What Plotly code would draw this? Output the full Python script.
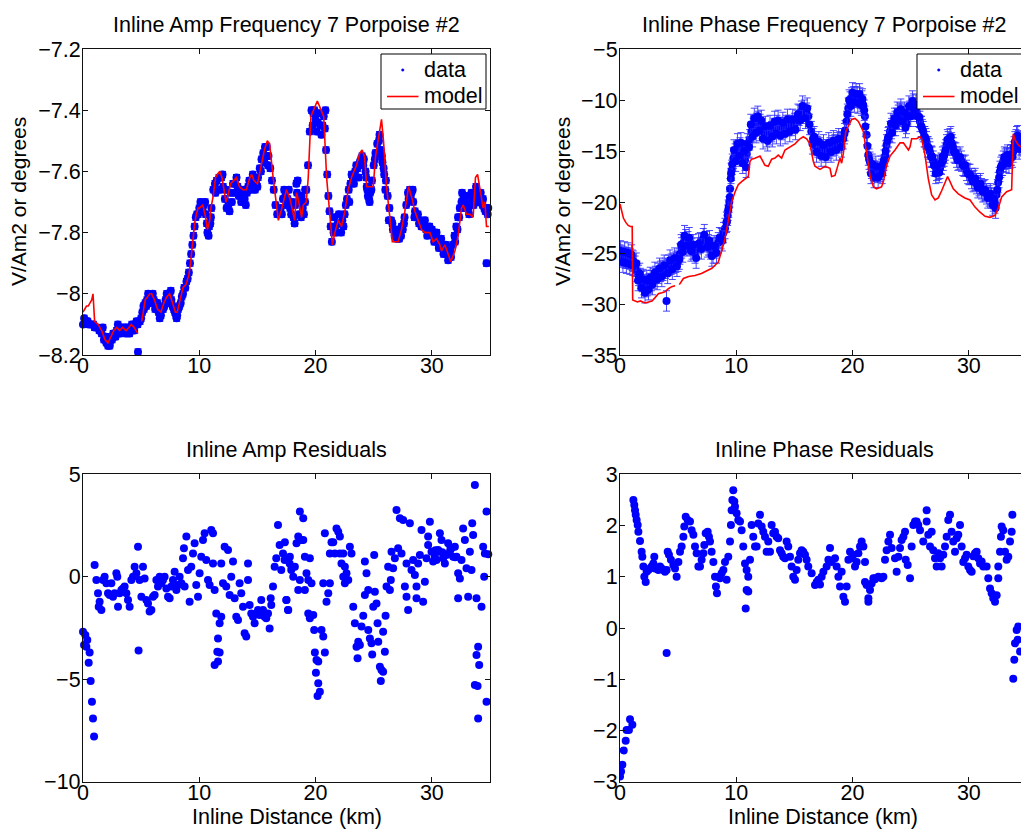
import plotly.graph_objects as go

W, H = 1021, 829
FONT = "Liberation Sans"
FS = 21.5
BLUE = "#0000ff"
RED = "#ff0000"

# ---------------- data: inline amplitude (log10 V/Am2) ----------------
amp_x = [0.0, 0.1, 0.2, 0.3, 0.4, 0.5, 0.7, 0.9, 1.0, 1.2, 1.4, 1.6, 1.8, 2.0, 2.15, 2.3, 2.5, 2.7, 2.9, 3.1,
         3.3, 3.5, 3.7, 3.9, 4.1, 4.3, 4.5, 4.7, 4.73, 4.9, 5.0, 5.1, 5.2, 5.35, 5.5, 5.7, 5.9, 6.1, 6.3, 6.5,
         6.7, 6.9, 7.1, 7.3, 7.45, 7.6, 7.8, 8.0, 8.1, 8.3, 8.5, 8.7, 8.9, 9.0, 9.1, 9.2, 9.3, 9.4, 9.5, 9.6,
         9.7, 9.8, 10.0, 10.2, 10.4, 10.55, 10.7, 10.8, 10.95, 11.05, 11.2, 11.35, 11.5, 11.7, 11.9, 12.05, 12.2, 12.35, 12.5, 12.7,
         12.9, 13.1, 13.3, 13.5, 13.7, 13.9, 14.1, 14.3, 14.5, 14.7, 14.9, 15.05, 15.2, 15.35, 15.5, 15.65, 15.8, 15.95, 16.1, 16.25,
         16.4, 16.55, 16.7, 16.85, 17.0, 17.2, 17.4, 17.6, 17.8, 17.9, 18.1, 18.25, 18.4, 18.46, 18.55, 18.75, 18.9, 19.1, 19.2, 19.35,
         19.5, 19.65, 19.8, 20.0, 20.2, 20.4, 20.6, 20.8, 20.9, 21.0, 21.1, 21.2, 21.3, 21.4, 21.55, 21.7, 21.9, 22.1, 22.3, 22.5,
         22.7, 22.85, 23.0, 23.2, 23.4, 23.6, 23.8, 24.0, 24.15, 24.3, 24.4, 24.5, 24.6, 24.7, 24.85, 25.0, 25.15, 25.3, 25.45, 25.6,
         25.75, 25.9, 26.05, 26.2, 26.35, 26.5, 26.65, 26.8, 27.0, 27.2, 27.35, 27.5, 27.65, 27.8, 27.95, 28.1, 28.25, 28.4, 28.55, 28.7,
         28.9, 29.1, 29.3, 29.5, 29.7, 29.9, 30.1, 30.3, 30.5, 30.7, 30.9, 31.1, 31.3, 31.5, 31.65, 31.8, 31.95, 32.1, 32.25, 32.4,
         32.55, 32.7, 32.85, 33.0, 33.15, 33.3, 33.45, 33.6, 33.75, 33.9, 34.05, 34.2, 34.35, 34.5, 34.65, 34.7, 34.85]
amp_y = [-8.10, -8.08, -8.09, -8.09, -8.09, -8.10, -8.10, -8.10, -8.11, -8.11, -8.12, -8.13, -8.15, -8.16, -8.17, -8.16, -8.15, -8.13, -8.12, -8.12,
         -8.12, -8.12, -8.13, -8.12, -8.11, -8.11, -8.10, -8.10, -8.19, -8.09, -8.08, -8.06, -8.04, -8.03, -8.02, -8.01, -8.01, -8.02, -8.04, -8.06,
         -8.07, -8.05, -8.02, -8.01, -8.00, -8.02, -8.05, -8.07, -8.07, -8.04, -8.01, -7.98, -7.96, -7.95, -7.93, -7.90, -7.87, -7.84, -7.81, -7.78,
         -7.75, -7.74, -7.72, -7.71, -7.71, -7.74, -7.80, -7.81, -7.77, -7.72, -7.66, -7.64, -7.63, -7.62, -7.62, -7.65, -7.69, -7.72, -7.71, -7.67,
         -7.64, -7.64, -7.65, -7.66, -7.68, -7.69, -7.67, -7.63, -7.63, -7.64, -7.64, -7.62, -7.59, -7.56, -7.54, -7.52, -7.52, -7.55, -7.59, -7.63,
         -7.66, -7.71, -7.74, -7.74, -7.72, -7.69, -7.68, -7.69, -7.72, -7.74, -7.75, -7.71, -7.67, -7.63, -7.70, -7.75, -7.72, -7.70, -7.66, -7.58,
         -7.47, -7.40, -7.41, -7.43, -7.44, -7.45, -7.45, -7.46, -7.53, -7.61, -7.68, -7.73, -7.78, -7.83, -7.80, -7.78, -7.77, -7.77, -7.76, -7.74,
         -7.69, -7.66, -7.64, -7.62, -7.60, -7.59, -7.57, -7.55, -7.56, -7.60, -7.65, -7.68, -7.69, -7.67, -7.63, -7.58, -7.54, -7.51, -7.50, -7.53,
         -7.57, -7.61, -7.63, -7.68, -7.72, -7.76, -7.79, -7.81, -7.82, -7.82, -7.81, -7.79, -7.75, -7.71, -7.67, -7.66, -7.67, -7.70, -7.73, -7.75,
         -7.77, -7.78, -7.78, -7.79, -7.80, -7.80, -7.81, -7.82, -7.83, -7.84, -7.85, -7.86, -7.87, -7.88, -7.88, -7.84, -7.81, -7.78, -7.75, -7.72,
         -7.70, -7.69, -7.70, -7.71, -7.72, -7.71, -7.70, -7.69, -7.68, -7.67, -7.68, -7.70, -7.71, -7.72, -7.72, -7.90, -7.72]
# scatter of the amplitude points around the main band
amp_x2 = [1.7, 2.0, 2.3, 2.6, 2.8, 3.0, 3.2, 3.4, 3.6, 3.8, 4.0, 4.2, 4.4, 4.6,
          5.25, 5.45, 5.6, 5.8, 6.0, 6.2, 6.4, 6.6, 6.8, 7.0, 7.2, 7.4, 7.55, 7.7, 7.9, 8.05, 8.2, 8.4, 8.6, 8.8,
          9.9, 10.1, 10.3, 10.5, 10.65, 10.85, 11.0,
          11.4, 11.8, 12.0, 12.3, 12.6, 12.8, 13.0, 13.2, 13.4, 13.6, 13.8, 14.0, 14.2, 14.4, 14.6, 14.8, 15.0, 15.3, 15.6, 15.7, 15.9,
          17.1, 17.3, 17.5, 17.7, 18.0, 18.2, 18.35, 18.6, 18.8, 19.0, 19.1,
          19.75, 19.9, 20.1, 20.3, 20.5, 20.7, 20.85,
          21.6, 21.8, 22.0, 22.2, 22.4, 22.6, 22.9, 23.1, 23.3, 23.5, 23.7, 23.9, 24.1,
          24.35, 24.45, 24.55, 24.65, 24.8, 25.1, 25.35, 25.5, 25.7, 25.85, 26.0,
          26.3, 26.6, 26.9, 27.1, 27.4, 27.6, 28.0, 28.2, 28.35, 28.5, 28.8, 29.0,
          29.4, 29.6, 29.8, 30.0, 30.2, 30.4, 30.6, 30.8, 31.0, 31.2, 31.4, 31.6,
          32.0, 32.2, 32.35, 32.6, 32.8, 33.0, 33.2, 33.4, 33.6, 33.8, 34.0, 34.2, 34.4, 34.6, 34.8]
amp_y2 = [-8.11, -8.14, -8.17, -8.13, -8.14, -8.10, -8.13, -8.11, -8.11, -8.11, -8.13, -8.10, -8.12, -8.09,
          -8.05, -8.04, -8.00, -8.03, -8.00, -8.05, -8.03, -8.08, -8.05, -8.04, -8.00, -8.03, -7.99, -8.04, -8.06, -8.08, -8.05, -8.03, -8.00, -7.98,
          -7.74, -7.70, -7.73, -7.70, -7.77, -7.78, -7.75,
          -7.67, -7.66, -7.61, -7.66, -7.73, -7.70, -7.67, -7.62, -7.68, -7.70, -7.66, -7.71, -7.65, -7.66, -7.61, -7.66, -7.65, -7.60, -7.57, -7.55, -7.58,
          -7.74, -7.66, -7.71, -7.66, -7.70, -7.77, -7.64, -7.74, -7.68, -7.74, -7.66,
          -7.45, -7.40, -7.47, -7.41, -7.48, -7.42, -7.40,
          -7.75, -7.80, -7.74, -7.80, -7.78, -7.71, -7.70, -7.61, -7.64, -7.58, -7.62, -7.56, -7.58,
          -7.62, -7.66, -7.65, -7.70, -7.66, -7.56, -7.54, -7.48, -7.55, -7.59, -7.66,
          -7.76, -7.77, -7.79, -7.80, -7.78, -7.77, -7.69, -7.69, -7.66, -7.75, -7.74, -7.76,
          -7.76, -7.81, -7.78, -7.79, -7.83, -7.80, -7.85, -7.82, -7.87, -7.84, -7.89, -7.86,
          -7.83, -7.79, -7.75, -7.67, -7.72, -7.68, -7.74, -7.67, -7.71, -7.65, -7.70, -7.67, -7.69, -7.73, -7.74]
amp_err = 0.01

amp_model_x = [0.0, 0.15, 0.3, 0.45, 0.6, 0.75, 0.86, 0.95, 1.0, 1.3, 1.6, 1.9, 2.15, 2.4, 2.65, 2.9, 3.15, 3.4, 3.7, 3.95,
               4.15, 4.4, 4.6, 4.73, None, 5.05, 5.2, 5.35, 5.55, 5.75, 5.9, 6.15, 6.4, 6.7, 6.95, 7.2, 7.45, 7.7, 7.95, 8.1,
               8.4, 8.6, 8.85, 9.1, 9.25, 9.35, 9.45, 9.6, 9.75, 9.9, 10.0, 10.3, 10.55, 10.7, 10.9, 11.0, 11.2, 11.4, 11.55, 11.75,
               11.95, 12.15, 12.3, 12.45, 12.7, 12.95, 13.2, 13.45, 13.75, 14.05, 14.35, 14.5, 14.7, 15.0, 15.3, 15.6, 15.85, 16.05, 16.35, 16.6,
               16.8, 17.1, 17.5, 17.8, 18.05, 18.2, 18.36, 18.5, 18.8, 18.94, 19.2, 19.37, 19.6, 19.9, 20.15, 20.37, 20.7, 20.95, 21.23, 21.45,
               21.66, 21.95, 22.23, 22.52, 22.81, 23.09, 23.52, 23.81, 24.0, 24.2, 24.4, 24.67, 24.96, 25.16, 25.39, 25.67, 25.84, 26.1, 26.39, 26.6,
               27.1, 27.39, 27.68, 28.0, 28.3, 28.54, 28.82, 29.11, 29.4, 29.83, 30.11, 30.4, 30.69, 30.83, 31.12, 31.4, 31.63, 31.98, 32.26, 32.55,
               32.69, 32.98, 33.27, 33.55, 33.75, 33.93, 34.13, 34.41, 34.56, 34.7, 34.9]
amp_model_y = [-8.06, -8.05, -8.04, -8.04, -8.03, -8.02, -8.00, -8.06, -8.09, -8.10, -8.12, -8.15, -8.16, -8.14, -8.12, -8.11, -8.12, -8.11, -8.12, -8.11,
               -8.10, -8.11, -8.12, -8.13, None, -8.09, -8.05, -8.02, -8.01, -8.00, -8.00, -8.02, -8.05, -8.06, -8.03, -8.01, -8.00, -8.03, -8.06, -8.06,
               -8.01, -7.98, -7.97, -7.94, -7.90, -7.86, -7.82, -7.77, -7.74, -7.72, -7.72, -7.71, -7.75, -7.79, -7.76, -7.72, -7.68, -7.62, -7.61, -7.60,
               -7.62, -7.67, -7.70, -7.68, -7.64, -7.63, -7.62, -7.65, -7.66, -7.66, -7.62, -7.61, -7.63, -7.64, -7.58, -7.53, -7.50, -7.51, -7.62, -7.70,
               -7.76, -7.72, -7.66, -7.69, -7.73, -7.76, -7.67, -7.69, -7.75, -7.71, -7.70, -7.62, -7.42, -7.39, -7.37, -7.39, -7.42, -7.62, -7.75, -7.84,
               -7.80, -7.76, -7.78, -7.73, -7.66, -7.62, -7.58, -7.54, -7.53, -7.55, -7.65, -7.65, -7.65, -7.55, -7.49, -7.43, -7.50, -7.65, -7.75, -7.83,
               -7.83, -7.79, -7.73, -7.65, -7.69, -7.73, -7.76, -7.79, -7.80, -7.80, -7.83, -7.82, -7.84, -7.86, -7.84, -7.87, -7.895, -7.86, -7.81, -7.72,
               -7.71, -7.74, -7.74, -7.75, -7.62, -7.61, -7.66, -7.72, -7.70, -7.78, -7.78]

# ---------------- data: inline phase (degrees) ----------------
phase_x = [0.0, 0.15, 0.3, 0.45, 0.6, 0.75, 0.9, 1.05, 1.15, 1.3, 1.45, 1.6, 1.75, 1.9, 2.05, 2.2, 2.35, 2.5, 2.7, 2.87,
           3.05, 3.3, 3.5, 3.7, 3.9, 4.0, 4.16, 4.4, 4.6, 4.8, 5.0, 5.15, 5.3, 5.45, 5.65, 5.85, 6.0, 6.2, 6.45, 6.65,
           6.9, 7.16, 7.4, 7.6, 7.8, 8.0, 8.2, 8.45, 8.7, 8.9, 9.03, 9.15, 9.26, 9.35, 9.4, 9.46, 9.53, 9.6, 9.75, 9.9,
           10.0, 10.2, 10.32, 10.45, 10.6, 10.75, 10.9, 11.03, 11.15, 11.3, 11.45, 11.6, 11.75, 11.9, 12.05, 12.2, 12.4, 12.6, 12.8, 13.04,
           13.25, 13.5, 13.7, 13.9, 14.1, 14.3, 14.5, 14.76, 15.0, 15.2, 15.4, 15.6, 15.85, 16.05, 16.2, 16.45, 16.6, 16.77, 17.0, 17.19,
           17.4, 17.62, 17.85, 18.05, 18.25, 18.48, 18.7, 18.91, 19.2, 19.35, 19.48, 19.63, 19.78, 19.91, 20.05, 20.2, 20.4, 20.63, 20.8, 20.92,
           21.06, 21.2, 21.35, 21.5, 21.63, 21.78, 21.92, 22.15, 22.35, 22.5, 22.64, 22.8, 22.92, 23.05, 23.21, 23.35, 23.5, 23.65, 23.78, 23.92,
           24.07, 24.2, 24.36, 24.5, 24.64, 24.78, 24.93, 25.08, 25.22, 25.36, 25.5, 25.65, 25.79, 25.93, 26.08, 26.22, 26.36, 26.5, 26.65, 26.8,
           26.94, 27.08, 27.22, 27.36, 27.51, 27.65, 27.8, 27.94, 28.08, 28.22, 28.37, 28.52, 28.66, 28.8, 28.94, 29.15, 29.37, 29.58, 29.8, 30.0,
           30.23, 30.45, 30.66, 30.88, 31.09, 31.3, 31.52, 31.74, 31.95, 32.1, 32.24, 32.38, 32.52, 32.67, 32.82, 32.96, 33.1, 33.24, 33.38, 33.53,
           33.67, 33.81, 33.96, 34.1, 34.25, 34.39, 34.55, 34.7]
phase_y = [-25.2, -25.3, -25.4, -25.5, -25.5, -25.5, -25.6, -25.7, -25.8, -26.3, -26.8, -27.2, -27.5, -27.8, -28.1, -28.3, -28.2, -28.0, -27.7, -27.5,
           -27.3, -27.0, -26.8, -26.7, -26.5, -29.7, -26.2, -26.1, -26.0, -25.9, -25.8, -25.1, -24.5, -24.0, -23.7, -23.9, -24.2, -24.6, -25.0, -24.5,
           -24.0, -23.6, -23.9, -24.2, -24.6, -25.0, -24.5, -24.0, -23.6, -23.0, -22.6, -22.0, -21.3, -20.5, -20.0, -18.7, -17.7, -16.9, -15.7, -15.3,
           -15.1, -14.9, -14.7, -15.0, -15.4, -15.9, -15.3, -14.7, -13.9, -13.1, -12.8, -12.6, -12.3, -12.1, -12.4, -12.8, -13.2, -13.6, -13.4, -13.1,
           -12.8, -12.5, -12.7, -12.9, -12.7, -12.5, -12.5, -12.5, -12.3, -12.0, -11.5, -11.1, -11.0, -11.3, -11.6, -13.1, -13.8, -14.4, -14.6, -14.7,
           -14.9, -15.1, -14.9, -14.7, -14.5, -14.4, -14.2, -14.1, -13.8, -13.0, -12.1, -10.8, -10.2, -9.8, -9.7, -9.7, -9.7, -9.8, -10.1, -10.5,
           -11.6, -13.4, -15.4, -16.1, -16.7, -16.9, -17.0, -17.1, -17.0, -16.8, -16.4, -15.5, -14.4, -13.7, -13.1, -12.8, -12.5, -12.1, -11.8, -11.5,
           -11.3, -11.4, -11.6, -12.0, -12.3, -11.6, -11.1, -10.8, -10.4, -10.8, -11.1, -11.6, -12.1, -12.6, -13.1, -13.6, -14.1, -14.6, -15.1, -15.5,
           -16.0, -16.5, -16.9, -16.8, -16.7, -16.3, -15.9, -15.2, -14.4, -14.1, -13.8, -14.2, -14.7, -15.2, -15.6, -15.8, -16.0, -16.5, -16.9, -17.3,
           -17.7, -17.9, -18.2, -18.4, -18.7, -18.9, -19.2, -19.4, -19.6, -19.9, -20.1, -19.3, -18.1, -17.0, -16.4, -16.0, -15.8, -15.7, -15.7, -15.7,
           -15.4, -15.1, -14.1, -13.6, -14.0, -14.4, -14.3, -14.5]
# scatter of the phase points around the main band
phase_x2 = [0.05, 0.25, 0.4, 0.55, 0.7, 0.85, 1.0, 1.1, 1.4, 1.55, 1.7, 1.85, 2.0, 2.15, 2.3, 2.45,
            2.6, 2.8, 3.0, 3.2, 3.4, 3.6, 3.8, 4.1, 4.3, 4.5, 4.7, 4.9,
            5.1, 5.25, 5.4, 5.55, 5.75, 5.95, 6.1, 6.3, 6.55, 6.75, 7.0, 7.25, 7.5, 7.7, 7.9, 8.1, 8.3, 8.55, 8.8,
            9.2, 9.3, 9.45, 9.55, 9.65, 9.8, 9.95, 10.1, 10.25, 10.4, 10.55, 10.7, 10.85, 10.95,
            11.1, 11.25, 11.4, 11.55, 11.7, 11.85, 12.0, 12.15, 12.3, 12.5, 12.7, 12.9, 13.1, 13.3, 13.45, 13.6, 13.8, 14.0,
            14.2, 14.4, 14.6, 14.85, 15.1, 15.3, 15.5, 15.7, 15.95, 16.1, 16.3, 16.55, 16.7,
            16.9, 17.1, 17.3, 17.5, 17.7, 17.95, 18.15, 18.35, 18.6, 18.8, 19.05, 19.3,
            19.55, 19.7, 19.85, 20.0, 20.15, 20.3, 20.45, 20.6, 20.75, 20.85, 21.0,
            21.1, 21.28, 21.42, 21.58, 21.7, 21.85, 22.0, 22.2, 22.45, 22.55, 22.7, 22.85,
            23.0, 23.1, 23.3, 23.4, 23.6, 23.7, 23.85, 24.0, 24.15, 24.3, 24.45, 24.55, 24.7, 24.85, 25.0, 25.15, 25.3, 25.45, 25.6, 25.75,
            25.9, 26.0, 26.15, 26.3, 26.45, 26.6, 26.75, 26.85, 27.0, 27.15, 27.3, 27.45, 27.6, 27.72, 27.87, 28.0,
            28.15, 28.3, 28.45, 28.58, 28.72, 28.88, 29.05, 29.25, 29.48, 29.7, 29.9, 30.1,
            30.35, 30.55, 30.77, 31.0, 31.2, 31.4, 31.63, 31.85, 32.05, 32.17, 32.3, 32.45, 32.6, 32.75, 32.9, 33.05, 33.2, 33.32,
            33.45, 33.6, 33.75, 33.88, 34.05, 34.2, 34.32, 34.48]
phase_y2 = [-24.8, -25.9, -24.9, -26.0, -25.0, -26.1, -25.2, -26.2, -26.0, -27.7, -27.0, -28.4, -27.6, -28.9, -27.7, -28.6,
            -27.4, -28.1, -26.9, -27.6, -26.5, -27.3, -26.2, -27.0, -25.7, -26.6, -25.5, -26.3,
            -25.6, -24.2, -24.9, -23.3, -24.3, -23.5, -24.8, -24.2, -25.5, -24.1, -24.6, -23.2, -24.4, -23.8, -25.3, -24.3, -25.0, -23.5, -23.8,
            -21.9, -20.8, -19.5, -17.2, -16.3, -14.9, -16.0, -14.3, -15.5, -14.2, -16.2, -15.0, -16.6, -14.3,
            -14.6, -12.4, -13.6, -11.8, -13.2, -11.6, -13.0, -12.0, -13.8, -12.6, -14.0, -12.5, -13.6, -12.1, -13.3, -12.0, -13.5, -12.2,
            -13.3, -11.9, -13.1, -11.9, -12.9, -11.4, -12.0, -10.6, -11.8, -10.8, -12.4, -14.3, -13.6,
            -15.1, -14.1, -15.5, -14.4, -15.6, -14.2, -15.1, -14.0, -14.9, -13.8, -14.6, -13.3,
            -11.4, -10.0, -10.6, -9.3, -10.2, -9.4, -10.3, -9.4, -10.5, -9.9, -11.0,
            -12.6, -14.5, -15.8, -17.2, -16.3, -17.6, -16.5, -17.6, -16.5, -17.2, -15.9, -15.0,
            -14.0, -13.6, -12.3, -13.2, -11.8, -12.5, -11.2, -11.9, -10.9, -12.1, -11.2, -12.7, -11.6, -10.6, -11.6, -10.1, -10.9, -10.5, -11.6, -11.7,
            -12.6, -12.9, -13.6, -13.8, -14.6, -14.8, -15.6, -15.6, -16.4, -17.2, -16.4, -17.1, -16.2, -15.6, -15.5, -14.9,
            -13.9, -14.4, -13.6, -14.4, -15.1, -15.2, -15.9, -15.6, -16.4, -16.4, -17.2, -17.3,
            -18.0, -17.7, -18.6, -18.2, -19.0, -18.8, -19.6, -19.2, -20.3, -19.7, -20.6, -18.8, -17.6, -16.6, -16.4, -15.6, -16.1, -15.4,
            -16.2, -15.4, -15.6, -14.6, -13.9, -13.5, -14.8, -14.1]
phase_err = 1.0

phase_model_x = [0.0, 0.15, 0.3, 0.5, 0.7, 0.9, 1.05, 1.09, 1.3, 1.5, 1.75, 1.95, 2.15, 2.45, 2.75, 3.0, 3.3, 3.6, 3.87, 4.16,
                 4.45, 4.73, None, 5.1, 5.45, 5.9, 6.45, 7.0, 7.6, 7.9, 8.17, 8.45, 8.74, 9.03, 9.3, 9.6, 9.9, 10.17, 10.46, 10.75,
                 11.03, 11.18, 11.32, 11.6, 12.04, 12.47, 12.75, 13.04, 13.33, 13.61, 13.9, 14.19, 14.62, 15.05, 15.48, 15.76, 16.05, 16.34, 16.62, 16.77,
                 17.2, 17.63, 18.06, 18.2, 18.49, 18.72, 18.92, 19.06, 19.21, 19.41, 19.64, 19.92, 20.21, 20.5, 20.93, 21.21, 21.5, 21.79, 22.06, 22.5,
                 22.65, 22.93, 23.22, 23.65, 24.08, 24.37, 24.65, 24.8, 24.94, 25.08, 25.51, 25.8, 25.94, 26.23, 26.51, 26.8, 27.09, 27.37, 27.66, 27.95,
                 28.17, 28.38, 28.66, 29.09, 29.66, 30.1, 30.53, 30.96, 31.39, 31.82, 32.25, 32.53, 32.82, 33.25, 33.68, 33.82, 33.97, 34.25, 34.48, 34.9]
phase_model_y = [-20.2, -21.0, -21.6, -22.0, -22.3, -22.4, -22.4, -29.6, -29.7, -29.8, -29.7, -29.8, -29.9, -29.8, -29.7, -29.4, -29.0, -28.9, -28.8, -28.5,
                 -28.3, -28.2, None, -28.1, -27.5, -27.3, -27.2, -27.0, -26.7, -26.5, -26.2, -25.9, -24.8, -23.6, -21.9, -20.0, -19.0, -18.3, -18.0, -17.7,
                 -17.5, -16.0, -15.8, -15.7, -15.5, -16.4, -16.5, -15.8, -15.7, -15.4, -15.7, -14.9, -14.6, -14.3, -13.8, -13.6, -13.8, -14.3, -16.0, -16.5,
                 -16.8, -16.5, -16.7, -17.5, -17.4, -16.4, -15.7, -16.2, -15.2, -13.1, -12.6, -11.9, -11.8, -12.1, -13.1, -15.4, -17.4, -18.5, -18.7, -18.5,
                 -18.0, -16.4, -15.5, -14.9, -14.2, -14.2, -14.6, -14.9, -14.6, -13.8, -13.8, -13.6, -13.8, -15.4, -17.7, -19.3, -19.8, -19.6, -18.9, -18.0,
                 -17.5, -18.0, -18.7, -19.2, -19.6, -19.8, -20.5, -21.0, -21.4, -21.5, -21.3, -20.6, -19.5, -19.0, -18.8, -13.3, -13.9, -14.4, -14.6, -14.8]

# ---------------- residuals: amplitude ----------------
amp_res_x = [0.00, 0.20, 0.37, 0.09, 0.29, 0.57, 0.49, 0.66, 0.77, 0.86, 0.95, 1.00, 1.15, 1.29, 1.43, 1.58, 1.35, 1.72, 1.86, 2.01,
             2.15, 2.29, 2.44, 2.58, 2.72, 2.87, 2.95, 3.01, 3.15, 3.30, 3.44, 3.58, 3.73, 3.87, 4.01, 4.16, 4.30, 4.44, 4.59, 4.73,
             4.78, 4.87, 5.02, 5.16, 5.30, 5.45, 5.59, 5.73, 5.88, 6.02, 6.16, 6.31, 6.45, 6.59, 6.74, 6.88, 7.02, 7.17, 7.31, 7.45,
             7.60, 7.74, 7.88, 8.03, 8.17, 8.31, 8.46, 8.60, 8.68, 8.74, 8.89, 9.03, 9.17, 9.31, 9.46, 9.60, 9.74, 9.89, 10.03, 10.17,
             10.32, 10.46, 10.60, 10.75, 10.89, 11.03, 11.18, 11.18, 11.32, 11.46, 11.55, 11.61, 11.75, 11.61, 11.32, 11.89, 11.75, 11.89, 12.04, 12.18,
             12.32, 12.47, 12.61, 12.75, 12.90, 13.04, 13.18, 13.33, 13.47, 13.61, 13.76, 13.90, 14.04, 14.19, 14.19, 14.33, 14.47, 14.62, 14.76, 14.90,
             15.05, 15.19, 15.33, 15.48, 15.62, 15.76, 15.91, 16.05, 16.14, 16.19, 16.34, 16.48, 16.62, 16.77, 16.91, 17.05, 17.20, 17.34, 17.48, 17.63,
             17.77, 17.91, 17.36, 17.50, 17.65, 17.79, 17.93, 18.08, 18.22, 18.36, 18.51, 18.65, 18.94, 18.79, 18.94, 18.51, 18.65, 19.08, 19.08, 19.22,
             19.37, 19.51, 19.37, 19.51, 19.65, 19.80, 19.88, 19.94, 20.08, 20.23, 20.03, 20.23, 20.37, 20.17, 20.51, 20.66, 20.80, 20.66, 20.94, 21.09,
             21.23, 20.80, 21.23, 21.37, 21.52, 21.80, 21.95, 22.09, 21.66, 22.09, 22.38, 22.23, 22.52, 22.66, 22.38, 22.52, 22.81, 22.95, 23.09, 23.24,
             23.38, 23.52, 23.67, 23.81, 23.61, 23.95, 24.10, 24.24, 24.38, 24.53, 24.24, 24.53, 24.67, 24.81, 24.87, 25.04, 25.10, 24.96, 25.24, 25.33,
             25.39, 25.53, 25.67, 25.81, 25.61, 25.81, 25.96, 26.02, 26.10, 26.24, 26.39, 26.47, 26.53, 26.67, 26.82, 26.96, 27.10, 27.25, 27.39, 27.53,
             27.68, 27.82, 27.96, 28.11, 27.82, 28.25, 28.39, 28.54, 28.68, 28.68, 28.82, 28.97, 29.11, 29.25, 29.40, 29.54, 29.68, 29.83, 29.68, 29.97,
             30.11, 30.26, 30.40, 30.54, 30.69, 30.83, 30.97, 31.12, 31.26, 31.40, 31.55, 31.69, 31.83, 31.98, 32.12, 32.26, 32.41, 32.26, 32.55, 32.69,
             32.84, 32.98, 33.12, 33.27, 33.41, 33.47, 33.55, 33.70, 33.84, 33.98, 33.84, 34.07, 34.27, 34.41, 34.50, 34.56, 34.70, 33.70, 33.93, 33.98,
             34.70, 34.85, 30.3, 30.9, 31.6, 32.0, 31.0, 30.6]
amp_res_y = [-2.68, -2.84, -3.09, -3.33, -3.41, -3.70, -4.19, -5.09, -6.10, -6.91, -7.80, 0.57, -0.16, -0.81, -1.22, -1.62, -1.46, -0.16, 0.00, -0.32,
             -0.81, -0.89, -0.32, -0.97, -0.81, 0.17, 0.00, -1.46, -0.81, -0.65, -0.57, -0.48, -0.81, -1.13, -1.46, -0.16, 0.00, 0.49, 0.17, 1.47,
             -3.60, -0.16, -0.97, 0.49, -0.08, -1.13, -1.30, -1.70, -1.62, -0.97, -0.89, -0.16, -0.48, 0.00, -0.32, -0.16, 0.00, -0.57, -0.97, -1.05,
             -0.48, -0.16, 0.25, -0.65, -0.40, 0.00, -0.32, 0.90, 1.39, -0.48, 1.96, 0.33, -1.22, 0.49, 1.14, 1.63, -0.40, -0.97, 0.17, 0.98,
             1.79, 2.12, 0.82, -0.16, -0.40, 2.28, 2.12, 0.65, -0.65, -1.79, -3.66, -3.01, -3.70, -4.14, -4.31, -1.95, -2.27, 0.65, -0.32, 1.47,
             -0.48, 1.31, -0.89, 0.00, 0.74, -1.05, -1.95, -2.11, -0.32, -0.81, -1.46, -2.76, -2.92, 0.65, -0.16, -1.38, -1.79, -1.95, -2.27, -1.79,
             -1.62, -1.87, -1.13, -1.62, -1.95, -2.03, -1.79, -2.52, -1.05, -1.38, -0.48, 0.49, 0.90, 2.53, 1.55, 0.33, 1.14, 0.82, -1.13, -1.62,
             0.65, 0.33, 1.69, -1.13, -1.62, 0.98, 0.49, 0.00, 0.49, 1.63, 1.96, 3.18, 2.85, 1.79, 1.79, -0.65, -0.16, 0.98, -0.65, 0.17,
             -0.16, 0.90, -1.79, -2.03, -0.32, -1.87, -2.60, -3.70, -4.06, -4.14, -4.68, -5.20, -5.61, -5.82, -2.60, -2.92, -3.70, -0.32, -1.22, -0.81,
             -0.32, 2.12, 1.14, 1.69, 1.69, 2.36, 2.20, 1.96, 1.14, 1.14, 1.14, 0.65, 0.49, 0.17, 0.00, -0.32, -0.16, 1.47, 1.14, -1.46,
             -2.27, -3.41, -3.17, -3.33, -3.98, -2.43, -1.90, 0.74, 0.17, -0.65, -0.89, -2.60, -3.01, -3.25, -3.79, 1.06, -0.73, -1.46, -1.30, -2.27,
             -3.17, -4.39, -4.55, -4.63, -5.09, -2.68, -3.66, -1.90, -0.48, 0.49, -0.65, -0.16, 1.22, 0.41, 0.90, 3.26, 1.39, 2.85, 1.14, 2.77,
             -0.48, -0.97, -1.62, 2.61, 0.65, 0.33, 0.82, 0.09, -0.48, -1.05, 0.65, 1.06, 2.28, -1.22, -0.24, 0.90, 1.55, 2.69, 1.96, 1.22,
             0.74, 0.98, 0.82, 1.31, 2.12, 1.79, 0.90, 0.65, 1.06, 1.63, 1.22, 1.39, 0.98, 1.47, 0.98, 0.17, -0.08, -1.05, 0.82, 2.36,
             1.79, 0.41, -0.97, 1.22, 0.33, 2.61, 2.04, 4.48, -1.05, -3.41, -3.82, -4.31, -1.46, 1.47, 0.00, 1.14, 3.18, -5.28, -5.33, -6.91,
             -6.10, 1.10, 1.30, 1.20, 1.40, 0.95, 1.05, 1.25]

# ---------------- residuals: phase ----------------
phase_res_x = [0.00, 0.09, 0.20, 0.32, 0.49, 0.57, 0.77, 0.86, 1.06, 1.15, 1.23, 1.29, 1.35, 1.43, 1.52, 1.58, 1.72, 1.86, 1.92, 2.01,
               2.09, 2.21, 2.29, 2.44, 2.58, 2.72, 2.87, 2.95, 3.01, 3.15, 3.30, 3.44, 3.58, 3.73, 3.87, 4.01, 4.01, 4.10, 4.21, 4.38,
               4.59, 4.73, 4.87, 5.02, 5.16, 5.30, 5.45, 5.53, 5.65, 5.82, 6.02, 6.16, 6.31, 6.45, 6.59, 6.74, 6.88, 7.02, 7.17, 7.25,
               7.37, 7.54, 7.65, 7.74, 7.88, 8.03, 8.17, 8.25, 8.34, 8.46, 8.60, 8.74, 8.89, 9.03, 9.17, 9.31, 9.46, 9.54, 9.60, 9.66,
               9.74, 9.83, 9.89, 10.03, 10.17, 10.32, 10.46, 10.60, 10.75, 10.89, 11.03, 10.89, 10.81, 11.03, 11.18, 11.32, 11.46, 11.61, 11.75, 11.89,
               12.04, 12.18, 12.32, 12.47, 12.61, 12.75, 12.90, 13.04, 13.18, 13.33, 13.47, 13.61, 13.76, 13.90, 14.04, 14.19, 14.33, 14.47, 14.62, 14.76,
               14.90, 15.05, 15.19, 15.33, 15.48, 15.62, 15.76, 15.91, 16.05, 16.19, 16.48, 16.77, 17.06, 17.34, 17.49, 17.77, 17.92, 18.06, 18.20, 18.49,
               18.63, 18.78, 18.92, 19.06, 19.21, 19.35, 19.49, 19.64, 19.78, 19.92, 20.07, 20.21, 20.35, 20.50, 20.64, 20.78, 20.93, 21.07, 21.07, 21.21,
               21.36, 21.36, 21.50, 21.64, 21.79, 21.93, 22.22, 22.50, 22.65, 22.79, 22.93, 23.08, 23.22, 23.36, 23.65, 23.79, 23.94, 24.08, 24.22, 24.37,
               24.51, 24.57, 24.74, 24.94, 25.08, 25.22, 25.37, 25.51, 25.65, 25.80, 26.08, 26.37, 26.37, 26.51, 26.66, 26.80, 26.94, 27.09, 27.23, 27.37,
               27.52, 27.66, 27.80, 27.95, 28.09, 28.23, 28.38, 28.52, 28.66, 28.81, 28.95, 29.09, 29.24, 29.38, 29.52, 29.67, 29.81, 29.95, 30.10, 30.24,
               30.53, 30.67, 30.81, 30.96, 31.24, 31.53, 31.67, 31.82, 31.96, 32.10, 32.25, 32.39, 32.53, 32.53, 32.68, 32.76, 32.82, 32.96, 33.11, 33.25,
               33.39, 33.54, 33.68, 33.74, 34.11, 34.20, 34.25, 33.97, 33.91, 33.82, 34.40, 16.92, 17.20, 21.93, 30.38, 31.10]
phase_res_y = [-2.90, -2.80, -2.67, -2.39, -2.20, -1.99, -1.99, -1.78, -1.89, 2.50, 2.40, 2.30, 2.21, 2.11, 2.01, 1.88, 1.70, 1.49, 1.39, 1.20,
               1.00, 0.90, 1.10, 1.13, 1.16, 1.20, 1.26, 1.39, 1.16, 1.16, 1.13, 1.20, 1.16, 1.13, 1.10, 1.13, -0.49, 1.49, 1.43, 1.33,
               1.23, 1.16, 1.00, 1.29, 1.49, 1.59, 1.78, 1.98, 2.17, 2.11, 2.08, 1.91, 1.82, 1.59, 1.46, 1.20, 1.20, 1.33, 1.46, 1.62,
               1.85, 1.88, 1.78, 1.69, 1.49, 1.29, 1.00, 0.81, 0.68, 1.00, 0.97, 1.07, 1.13, 1.29, 0.94, 1.39, 1.69, 2.01, 2.30, 2.50,
               2.69, 2.47, 2.37, 2.24, 2.11, 2.08, 1.91, 1.59, 1.26, 1.13, 1.00, 0.74, 0.38, 0.71, 1.33, 2.01, 1.78, 1.59, 1.59, 2.04,
               2.21, 1.98, 1.88, 1.78, 1.49, 1.69, 1.49, 2.01, 1.85, 1.88, 1.78, 1.75, 1.52, 1.46, 1.39, 1.36, 1.69, 1.59, 1.39, 1.20,
               1.00, 0.94, 1.13, 1.33, 1.46, 1.52, 1.49, 1.43, 1.33, 1.20, 1.07, 0.84, 0.94, 1.00, 1.10, 1.20, 1.33, 1.56, 1.29, 1.36,
               1.20, 1.00, 0.81, 1.10, 0.61, 0.51, 0.81, 1.33, 1.49, 1.36, 1.43, 1.20, 1.29, 1.46, 1.59, 1.69, 1.59, 1.29, 0.90, 0.84,
               0.58, 0.51, 0.74, 0.87, 0.97, 0.97, 1.00, 0.97, 1.00, 1.33, 1.52, 1.69, 1.82, 1.56, 1.36, 1.10, 1.39, 1.56, 1.72, 1.78,
               1.88, 1.33, 1.23, 0.97, 1.59, 2.01, 2.08, 2.08, 2.01, 1.91, 1.69, 2.30, 2.08, 1.82, 1.59, 1.88, 1.52, 1.36, 1.20, 1.46,
               1.36, 1.20, 1.43, 1.59, 1.78, 2.11, 2.21, 1.88, 1.69, 1.49, 1.75, 1.82, 2.01, 1.59, 1.29, 1.36, 1.43, 1.20, 1.13, 1.10,
               1.46, 1.49, 1.36, 1.26, 1.20, 1.20, 0.97, 0.77, 0.68, 0.58, 0.51, 0.64, 0.97, 1.20, 1.49, 1.78, 1.98, 1.91, 1.49, 1.33,
               1.39, 1.69, 1.88, 2.21, -0.04, -0.23, 0.03, -0.30, -0.62, -0.99, -0.46, 0.90, 0.85, 0.95, 1.40, 1.30]

# ---------------- axis/tick texts ----------------
x_ticks = [0, 10, 20, 30]
amp_ticks = [-8.2, -8.0, -7.8, -7.6, -7.4, -7.2]
amp_ticktext = ["\u22128.2", "\u22128", "\u22127.8", "\u22127.6", "\u22127.4", "\u22127.2"]
phase_ticks = [-35, -30, -25, -20, -15, -10, -5]
amp_res_ticks = [-10, -5, 0, 5]
phase_res_ticks = [-3, -2, -1, 0, 1, 2, 3]

title_amp = "Inline Amp Frequency 7 Porpoise #2"
title_phase = "Inline Phase Frequency 7 Porpoise #2"
title_amp_res = "Inline Amp Residuals"
title_phase_res = "Inline Phase Residuals"
ylabel = "V/Am2 or degrees"
xlabel = "Inline Distance (km)"


def px(x):
    return x / W


def py(y):
    return 1 - y / H


# plot areas in pixels
L_X0, L_X1 = 83, 490
R_X0 = 620
KM_PER_PX = 35.0 / (L_X1 - L_X0)
T_Y0, T_Y1 = 49, 355
B_Y0, B_Y1 = 474.3, 781.7

fig = go.Figure()

mk = dict(color=BLUE, size=8, line=dict(width=0))
for xs, ys in ((amp_x, amp_y), (amp_x2, amp_y2)):
    fig.add_trace(go.Scatter(x=xs, y=ys, mode="markers", marker=mk, xaxis="x", yaxis="y",
                             showlegend=False, cliponaxis=False,
                             error_y=dict(type="constant", value=amp_err, color=BLUE, thickness=1, width=3.5)))
fig.add_trace(go.Scatter(x=amp_model_x, y=amp_model_y, mode="lines", line=dict(color=RED, width=1.6),
                         xaxis="x", yaxis="y", showlegend=False, connectgaps=False))

for xs, ys in ((phase_x, phase_y), (phase_x2, phase_y2)):
    fig.add_trace(go.Scatter(x=xs, y=ys, mode="markers", marker=mk, xaxis="x2", yaxis="y2",
                             showlegend=False, cliponaxis=True,
                             error_y=dict(type="constant", value=phase_err, color="rgba(40,40,255,0.85)",
                                          thickness=1, width=3.5)))
fig.add_trace(go.Scatter(x=phase_model_x, y=phase_model_y, mode="lines", line=dict(color=RED, width=1.6),
                         xaxis="x2", yaxis="y2", showlegend=False, connectgaps=False))

fig.add_trace(go.Scatter(x=amp_res_x, y=amp_res_y, mode="markers", marker=mk, xaxis="x3", yaxis="y3",
                         showlegend=False, cliponaxis=False))
fig.add_trace(go.Scatter(x=phase_res_x, y=phase_res_y, mode="markers", marker=mk, xaxis="x4", yaxis="y4",
                         showlegend=False, cliponaxis=True))

axcommon = dict(showgrid=False, zeroline=False, showline=True, linecolor="#111", linewidth=1.2,
                ticks="inside", ticklen=5, tickwidth=1, tickcolor="#111", automargin=False,
                tickfont=dict(family=FONT, size=FS, color="#000"))
xcommon = dict(axcommon, ticklabelstandoff=-9)
ycommon = dict(axcommon, ticklabelstandoff=-3)

right_range = (W - R_X0) * KM_PER_PX

layout = dict(
    width=W, height=H, autosize=False,
    margin=dict(l=0, r=0, t=0, b=0, pad=0, autoexpand=False),
    paper_bgcolor="white", plot_bgcolor="white",
    font=dict(family=FONT, size=FS, color="#000"),
    showlegend=False,
    xaxis=dict(xcommon, domain=[px(L_X0), px(L_X1)], range=[0, 35], anchor="y", mirror="ticks",
               tickvals=x_ticks),
    yaxis=dict(ycommon, domain=[py(T_Y1), py(T_Y0)], range=[-8.2, -7.2], anchor="x", mirror="ticks",
               tickvals=amp_ticks, ticktext=amp_ticktext),
    xaxis2=dict(xcommon, domain=[px(R_X0), 1.0], range=[0, right_range], anchor="y2", mirror="ticks",
                tickvals=x_ticks),
    yaxis2=dict(ycommon, domain=[py(T_Y1), py(T_Y0)], range=[-35, -5], anchor="x2", mirror=False,
                tickvals=phase_ticks),
    xaxis3=dict(xcommon, domain=[px(L_X0), px(L_X1)], range=[0, 35], anchor="y3", mirror="ticks",
                tickvals=x_ticks),
    yaxis3=dict(ycommon, domain=[py(B_Y1), py(B_Y0)], range=[-10, 5], anchor="x3", mirror="ticks",
                tickvals=amp_res_ticks),
    xaxis4=dict(xcommon, domain=[px(R_X0), 1.0], range=[0, right_range], anchor="y4", mirror="ticks",
                tickvals=x_ticks),
    yaxis4=dict(ycommon, domain=[py(B_Y1), py(B_Y0)], range=[-3, 3], anchor="x4", mirror=False,
                tickvals=phase_res_ticks),
)
fig.update_layout(**layout)

ann = []
shapes = []


def text(t, x, y, xanchor="center", angle=0, size=FS):
    ann.append(dict(text=t, x=px(x), y=py(y), xref="paper", yref="paper", showarrow=False,
                    xanchor=xanchor, yanchor="middle", textangle=angle,
                    font=dict(family=FONT, size=size, color="#000")))


# titles
text(title_amp, (L_X0 + L_X1) / 2, 25)
text(title_phase, 824, 25)
text(title_amp_res, (L_X0 + L_X1) / 2, 450)
text(title_phase_res, 824, 450)
# axis labels
text(ylabel, 19, (T_Y0 + T_Y1) / 2, angle=-90, size=21)
text(ylabel, 563, (T_Y0 + T_Y1) / 2, angle=-90, size=21)
text(xlabel, (L_X0 + L_X1) / 2, 817)
text(xlabel, 823, 817)


# legends (drawn as boxes)
def legend(x0):
    shapes.append(dict(type="rect", xref="paper", yref="paper", x0=px(x0), x1=px(x0 + 105),
                       y0=py(109), y1=py(54), line=dict(color="#000", width=1), fillcolor="white",
                       layer="above"))
    shapes.append(dict(type="circle", xref="paper", yref="paper", x0=px(x0 + 20.5), x1=px(x0 + 23),
                       y0=py(71.2), y1=py(68.8), line=dict(color=BLUE, width=0.5), fillcolor=BLUE,
                       layer="above"))
    shapes.append(dict(type="line", xref="paper", yref="paper", x0=px(x0 + 6), x1=px(x0 + 37.5),
                       y0=py(96.5), y1=py(96.5), line=dict(color=RED, width=1.6), layer="above"))
    text("data", x0 + 41, 70, xanchor="left")
    text("model", x0 + 41, 96, xanchor="left")


legend(381)
legend(917)

fig.update_layout(annotations=ann, shapes=shapes)
fig.write_html("out.html",
               post_script="document.body.style.margin='0px';document.body.style.overflow='hidden';")
